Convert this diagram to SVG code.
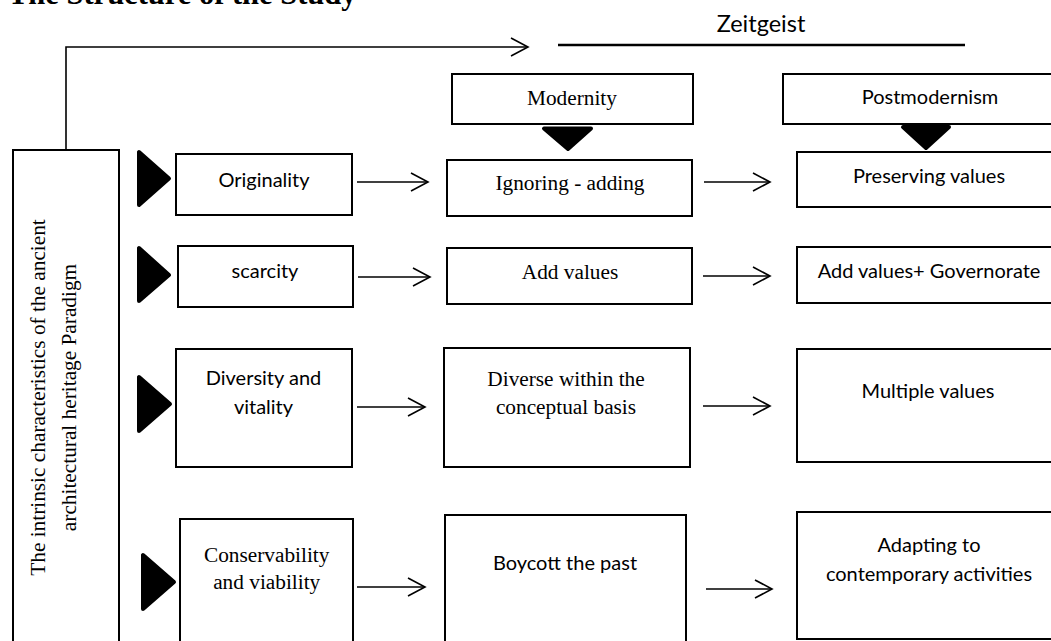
<svg xmlns="http://www.w3.org/2000/svg" width="1051" height="641" viewBox="0 0 1051 641">
<style>
.box{fill:#fff;stroke:#000;stroke-width:2}
.tri{fill:#000;stroke:#000;stroke-width:4;stroke-linejoin:round}
.con{fill:none;stroke:#000;stroke-width:1.6}
.serif{font-family:"Liberation Serif","Times New Roman",serif;font-size:21.3px;fill:#000;text-anchor:middle}
.sans{font-family:Lato,"Liberation Sans",sans-serif;font-size:20px;fill:#000;text-anchor:middle}
.big{font-size:23.5px}
</style>
<defs>
<marker id="arr" markerUnits="userSpaceOnUse" markerWidth="22" markerHeight="22" refX="17" refY="9" orient="auto" overflow="visible">
<path d="M0,0 L17,9 L0,18" fill="none" stroke="#000" stroke-width="1.6"/>
</marker>
</defs>
<rect width="1051" height="641" fill="#fff"/>
<text x="8" y="4" font-family="'Liberation Serif','Times New Roman',serif" font-weight="bold" font-size="30.5px">The Structure of the Study</text>

<g id="zeitgeist">
<text x="761" y="32" class="sans big">Zeitgeist</text>
<line x1="558" y1="45" x2="965" y2="45" stroke="#000" stroke-width="2.5"/>
</g>

<g id="connectors">
<polyline class="con" points="66,150 66,47 528,47" marker-end="url(#arr)"/>
<line class="con" x1="357" y1="182" x2="428" y2="182" marker-end="url(#arr)"/>
<line class="con" x1="704" y1="182" x2="770" y2="182" marker-end="url(#arr)"/>
<line class="con" x1="358" y1="277" x2="430" y2="277" marker-end="url(#arr)"/>
<line class="con" x1="703" y1="276" x2="770" y2="276" marker-end="url(#arr)"/>
<line class="con" x1="357" y1="407" x2="425" y2="407" marker-end="url(#arr)"/>
<line class="con" x1="703" y1="406" x2="770" y2="406" marker-end="url(#arr)"/>
<line class="con" x1="357" y1="587" x2="425" y2="587" marker-end="url(#arr)"/>
<line class="con" x1="706" y1="589" x2="772" y2="589" marker-end="url(#arr)"/>
<polygon class="tri" points="544,128.5 591,128.5 568,149"/>
<polygon class="tri" points="903,127 949,127 926,148"/>
<polygon class="tri" points="139,152 139,205 169,178.5"/>
<polygon class="tri" points="139,248 139,301 169,275"/>
<polygon class="tri" points="139,377 139,431 170,404"/>
<polygon class="tri" points="143,555 143,609 174,582"/>
</g>

<g id="paradigm">
<rect class="box" x="13" y="150" width="106" height="520"/>
<text class="serif" transform="translate(45,397.5) rotate(-90)">The intrinsic characteristics of the ancient</text>
<text class="serif" transform="translate(76,397.5) rotate(-90)">architectural heritage Paradigm</text>
</g>

<g id="modernity">
<rect class="box" x="452" y="74" width="241" height="50"/>
<text class="serif" x="572" y="105">Modernity</text>
</g>
<g id="postmodernism">
<rect class="box" x="783" y="74" width="300" height="50"/>
<text class="sans" x="930" y="104">Postmodernism</text>
</g>

<g id="originality">
<rect class="box" x="176" y="154" width="176" height="61"/>
<text class="sans" x="264" y="186.5">Originality</text>
</g>
<g id="ignoring">
<rect class="box" x="447" y="160" width="245" height="56"/>
<text class="serif" x="570" y="190">Ignoring - adding</text>
</g>
<g id="preserving">
<rect class="box" x="797" y="152" width="290" height="55"/>
<text class="sans" x="929" y="182.5">Preserving values</text>
</g>

<g id="scarcity">
<rect class="box" x="178" y="246" width="175" height="61"/>
<text class="sans" x="265" y="278">scarcity</text>
</g>
<g id="addvalues">
<rect class="box" x="447" y="248" width="245" height="56"/>
<text class="serif" x="570" y="278.5">Add values</text>
</g>
<g id="governorate">
<rect class="box" x="797" y="247" width="290" height="56"/>
<text class="sans" x="929" y="278">Add values+ Governorate</text>
</g>

<g id="diversity">
<rect class="box" x="176" y="349" width="176" height="118"/>
<text class="sans" x="263.5" y="385">Diversity and</text>
<text class="sans" x="263.5" y="414">vitality</text>
</g>
<g id="diverse">
<rect class="box" x="444" y="348" width="246" height="119"/>
<text class="serif" x="566" y="386">Diverse within the</text>
<text class="serif" x="566" y="414">conceptual basis</text>
</g>
<g id="multiple">
<rect class="box" x="797" y="349" width="290" height="113"/>
<text class="sans" x="928" y="398">Multiple values</text>
</g>

<g id="conservability">
<rect class="box" x="180" y="519" width="173" height="150"/>
<text class="serif" x="266.7" y="562">Conservability</text>
<text class="serif" x="266.7" y="589">and viability</text>
</g>
<g id="boycott">
<rect class="box" x="445" y="515" width="241" height="150"/>
<text class="sans" x="565" y="570">Boycott the past</text>
</g>
<g id="adapting">
<rect class="box" x="797" y="512" width="290" height="127"/>
<text class="sans" x="929" y="552">Adapting to</text>
<text class="sans" x="929" y="581">contemporary activities</text>
</g>
</svg>
